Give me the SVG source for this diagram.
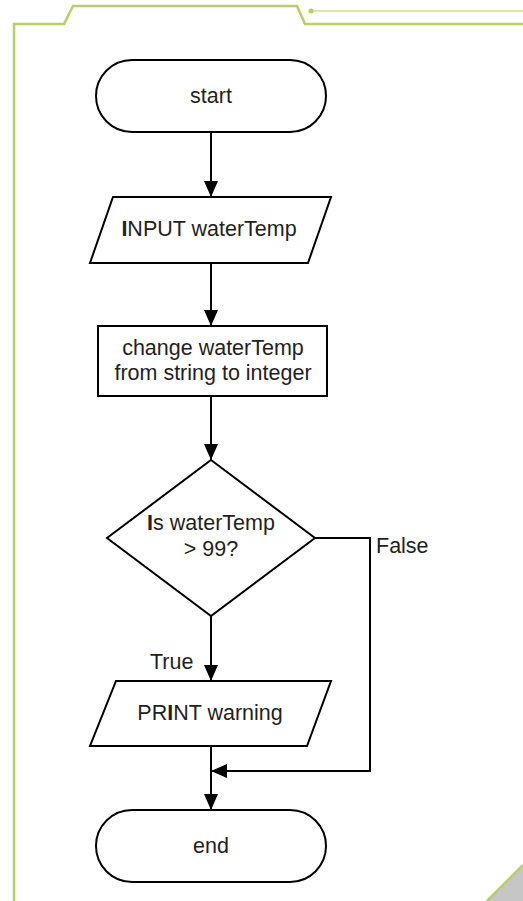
<svg xmlns="http://www.w3.org/2000/svg" width="523" height="901" viewBox="0 0 523 901">
  <style>
    .frame { fill: none; stroke: #b5cf6a; stroke-width: 2.5; }
    .shape { fill: #ffffff; stroke: #000000; stroke-width: 2; }
    .link { fill: none; stroke: #000000; stroke-width: 2; }
    text { font-family: "Liberation Sans", Arial, sans-serif; font-size: 21.5px; fill: #231f20; text-anchor: middle; }
    .lbl { text-anchor: start; }
    .b { font-weight: bold; }
  </style>
  <defs>
    <marker id="arrow" viewBox="0 0 16 14" refX="16" refY="7" markerWidth="16" markerHeight="14" markerUnits="userSpaceOnUse" orient="auto">
      <path d="M0,0 L16,7 L0,14 Z" fill="#000000"/>
    </marker>
  </defs>

  <!-- page frame -->
  <g id="frame">
    <path class="frame" d="M14,901 L14,24 L64,24 L73,6 L297,6 L305,24 L523,24"/>
    <path d="M311,11 L523,11" stroke="#b5cf6a" stroke-width="1.2" fill="none"/>
    <circle cx="311" cy="11" r="2.5" fill="#b5cf6a"/>
    <path d="M487,901 L523,865 L523,901 Z" fill="#c6c6c6"/>
    <path d="M487,901 L523,865" stroke="#b5cf6a" stroke-width="2.5" fill="none"/>
  </g>

  <!-- connectors -->
  <g id="connectors">
    <path class="link" d="M211,132 L211,197" marker-end="url(#arrow)"/>
    <path class="link" d="M211,263 L211,326" marker-end="url(#arrow)"/>
    <path class="link" d="M211,396 L211,460" marker-end="url(#arrow)"/>
    <path class="link" d="M211,616 L211,681" marker-end="url(#arrow)"/>
    <path class="link" d="M211,746 L211,810" marker-end="url(#arrow)"/>
    <path class="link" d="M315,538 L370,538 L370,771 L211,771" marker-end="url(#arrow)"/>
    <text class="lbl" x="150" y="669">True</text>
    <text class="lbl" x="376" y="553">False</text>
  </g>

  <g id="start">
    <rect class="shape" x="96" y="60" width="230" height="72" rx="36" ry="36"/>
    <text x="211" y="103">start</text>
  </g>

  <g id="input">
    <polygon class="shape" points="113,197 331,197 308,263 90,263"/>
    <text x="209" y="236"><tspan class="b">I</tspan>NPUT waterTemp</text>
  </g>

  <g id="convert">
    <rect class="shape" x="98" y="326" width="229" height="70"/>
    <text x="213" y="355">change waterTemp</text>
    <text x="213" y="380">from string to integer</text>
  </g>

  <g id="decision">
    <polygon class="shape" points="211,460 315,538 211,616 107,538"/>
    <text x="211" y="530"><tspan class="b">I</tspan>s waterTemp</text>
    <text x="211" y="556">&gt; 99?</text>
  </g>

  <g id="print">
    <polygon class="shape" points="116,681 331,681 307,746 90,746"/>
    <text x="210" y="720">PR<tspan class="b">I</tspan>NT warning</text>
  </g>

  <g id="end">
    <rect class="shape" x="96" y="810" width="230" height="72" rx="36" ry="36"/>
    <text x="211" y="853">end</text>
  </g>
</svg>
